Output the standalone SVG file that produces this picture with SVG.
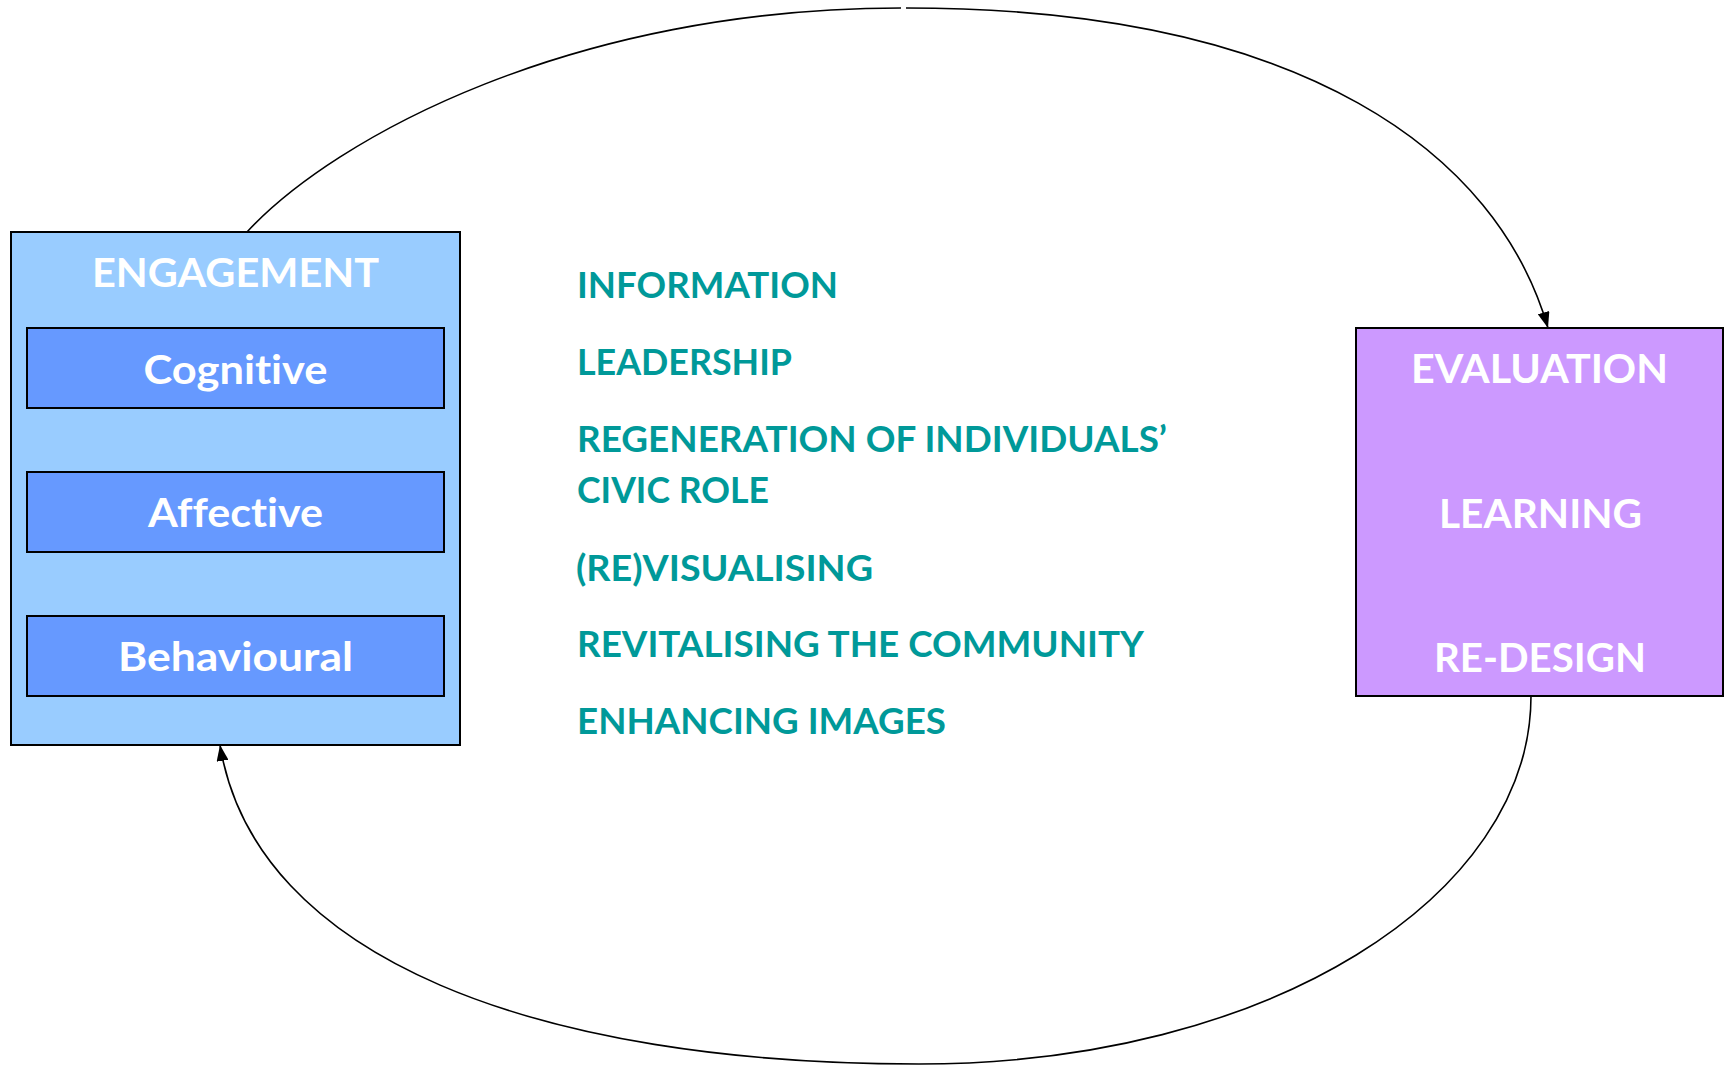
<svg xmlns="http://www.w3.org/2000/svg" width="1724" height="1065" viewBox="0 0 1724 1065">
<defs>
<style>
.box{stroke:#000;stroke-width:2}
.wt{font-family:Lato,"Open Sans","Liberation Sans",sans-serif;font-weight:bold;fill:#fff;text-anchor:middle;font-variant-ligatures:none}
.tl{font-family:Lato,"Open Sans","Liberation Sans",sans-serif;font-weight:bold;fill:#009999;font-size:36px;font-variant-ligatures:none}
.cn{fill:none;stroke:#000;stroke-width:1.6}
</style>
<marker id="ah" markerWidth="16" markerHeight="12" refX="16" refY="6" orient="auto" markerUnits="userSpaceOnUse">
<path d="M0,0 L16,6 L0,12 Z" fill="#000"/>
</marker>
</defs>
<rect width="1724" height="1065" fill="#fff"/>
<g id="connectors">
<path class="cn" d="M247,232 C335,137 573,8 901,8"/>
<path class="cn" d="M906,8 C1306,8 1498,155 1548,328" marker-end="url(#ah)"/>
<path class="cn" d="M1531,696 C1531,896 1269,1064 919,1064 C539,1064 255,960 220,745" marker-end="url(#ah)"/>
</g>
<g id="engagement">
<rect class="box" x="11" y="232" width="449" height="513" fill="#99CCFF"/>
<text class="wt" x="235.5" y="287" font-size="41" textLength="287" lengthAdjust="spacingAndGlyphs">ENGAGEMENT</text>
</g>
<g id="cognitive">
<rect class="box" x="27" y="328" width="417" height="80" fill="#6699FF"/>
<text class="wt" x="235.5" y="384" font-size="41" textLength="184" lengthAdjust="spacingAndGlyphs">Cognitive</text>
</g>
<g id="affective">
<rect class="box" x="27" y="472" width="417" height="80" fill="#6699FF"/>
<text class="wt" x="235.5" y="527" font-size="41" textLength="175" lengthAdjust="spacingAndGlyphs">Affective</text>
</g>
<g id="behavioural">
<rect class="box" x="27" y="616" width="417" height="80" fill="#6699FF"/>
<text class="wt" x="235.5" y="671" font-size="41" textLength="235" lengthAdjust="spacingAndGlyphs">Behavioural</text>
</g>
<g id="evaluation">
<rect class="box" x="1356" y="328" width="367" height="368" fill="#CC99FF"/>
<text class="wt" x="1539.5" y="383" font-size="40" textLength="257" lengthAdjust="spacingAndGlyphs">EVALUATION</text>
<text class="wt" x="1540.5" y="528" font-size="40" textLength="203" lengthAdjust="spacingAndGlyphs">LEARNING</text>
<text class="wt" x="1540" y="672" font-size="40" textLength="212" lengthAdjust="spacingAndGlyphs">RE-DESIGN</text>
</g>
<g id="outcomes">
<text class="tl" x="577" y="298" textLength="261" lengthAdjust="spacingAndGlyphs">INFORMATION</text>
<text class="tl" x="577" y="375" textLength="215" lengthAdjust="spacingAndGlyphs">LEADERSHIP</text>
<text class="tl" x="577" y="452" textLength="590" lengthAdjust="spacingAndGlyphs">REGENERATION OF INDIVIDUALS’</text>
<text class="tl" x="577" y="503" textLength="192" lengthAdjust="spacingAndGlyphs">CIVIC ROLE</text>
<text class="tl" x="576" y="581" textLength="297" lengthAdjust="spacingAndGlyphs">(RE)VISUALISING</text>
<text class="tl" x="577" y="657" textLength="567" lengthAdjust="spacingAndGlyphs">REVITALISING THE COMMUNITY</text>
<text class="tl" x="577" y="734" textLength="369" lengthAdjust="spacingAndGlyphs">ENHANCING IMAGES</text>
</g>
</svg>
